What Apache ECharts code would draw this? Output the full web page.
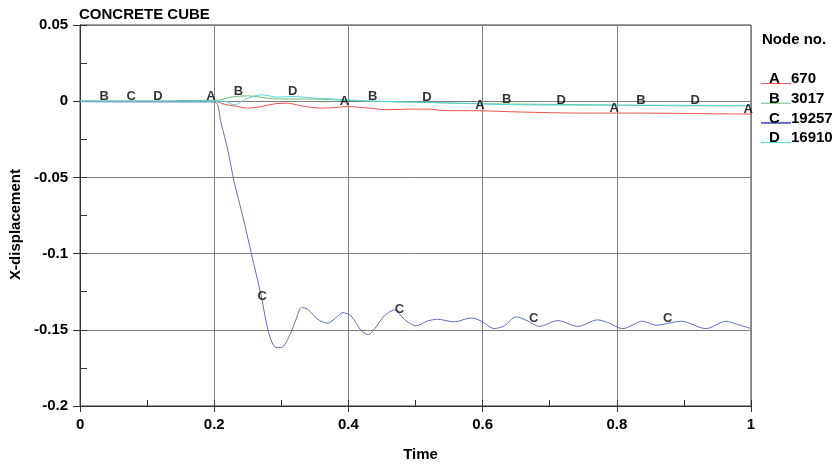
<!DOCTYPE html>
<html>
<head>
<meta charset="utf-8">
<script src="https://cdn.jsdelivr.net/npm/echarts@6/dist/echarts.min.js"></script>
<style>html,body{margin:0;padding:0;background:#fff;}#c{width:836px;height:467px;}</style>
</head>
<body>
<div id="c"></div>
<script>
// ---- data ----
const chartTitle = 'CONCRETE CUBE';
const xName = 'Time';
const yName = 'X-displacement';
const legendTitle = 'Node no.';
const curveLetters = ['A', 'B', 'C', 'D'];
const nodeIds = ['670', '3017', '19257', '16910'];
const xTicks = [0, 0.2, 0.4, 0.6, 0.8, 1];
const yTicks = [-0.2, -0.15, -0.1, -0.05, 0, 0.05];

const timeA = [0, 0.1, 0.2, 0.215, 0.235, 0.25, 0.27, 0.29, 0.309, 0.329, 0.359, 0.384, 0.399, 0.429, 0.4585, 0.498, 0.523, 0.538, 0.5976, 0.657, 0.7466, 0.836, 0.935, 1.0];
const valA  = [0, 0, 0, -0.002, -0.0035, -0.0045, -0.0035, -0.0017, -0.0013, -0.003, -0.0045, -0.004, -0.0035, -0.0045, -0.0056, -0.0052, -0.0052, -0.0061, -0.0063, -0.0071, -0.0078, -0.0078, -0.0082, -0.0085];

const timeB = [0, 0.1, 0.14, 0.15, 0.2, 0.21, 0.225, 0.25, 0.2797, 0.2996, 0.349, 0.399, 0.4486, 0.508, 0.6076, 0.707, 0.806, 0.906, 1.0];
const valB  = [0, 0, 0, 0.0005, 0.0005, 0.0009, 0.0027, 0.0035, 0.002, 0.0014, 0.0014, 0.0005, -0.0002, -0.0008, -0.0017, -0.0021, -0.0026, -0.003, -0.003];

const timeC = [0, 0.1, 0.2, 0.21, 0.22, 0.23, 0.2425, 0.255, 0.27, 0.281, 0.292, 0.30, 0.312, 0.322, 0.33, 0.339, 0.354, 0.369, 0.3815, 0.3915, 0.404, 0.419, 0.43, 0.4386, 0.4535, 0.4684, 0.4833, 0.5007, 0.5182, 0.533, 0.5578, 0.5827, 0.5976, 0.6174, 0.6324, 0.6498, 0.6672, 0.6845, 0.7119, 0.7417, 0.7715, 0.7864, 0.8088, 0.8386, 0.8584, 0.8957, 0.9329, 0.9627, 0.9801, 1.0];
const valC  = [-0.0003, -0.0005, -0.0005, -0.0143, -0.0318, -0.0536, -0.0755, -0.0994, -0.1278, -0.1518, -0.1616, -0.1616, -0.154, -0.143, -0.1354, -0.1365, -0.143, -0.1457, -0.142, -0.1387, -0.141, -0.1505, -0.1531, -0.1496, -0.1409, -0.137, -0.1431, -0.1474, -0.1442, -0.1431, -0.1448, -0.1422, -0.1442, -0.1492, -0.1474, -0.1415, -0.1442, -0.1478, -0.1439, -0.1478, -0.1435, -0.1452, -0.1492, -0.1444, -0.147, -0.1444, -0.1492, -0.1444, -0.1465, -0.1492];

const timeD = [0, 0.1, 0.2, 0.215, 0.23, 0.245, 0.27, 0.2946, 0.319, 0.349, 0.379, 0.414, 0.4586, 0.523, 0.657, 0.806, 1.0];
const valD  = [0, 0, 0, 0, -0.0024, 0.0009, 0.0042, 0.0027, 0.003, 0.002, 0.0014, 0.0005, -0.0002, -0.0008, -0.0024, -0.0026, -0.0028];

// times where the curve letters are written
const labelTimesA = [0.195, 0.394, 0.596, 0.796, 0.996];
const labelTimesB = [0.036, 0.236, 0.436, 0.636, 0.836];
const labelTimesC = [0.076, 0.2715, 0.476, 0.676, 0.876];
const labelTimesD = [0.116, 0.317, 0.517, 0.717, 0.917];

// ---- build ----
const colors = ['#f05050', '#6cc06c', '#5f70c0', '#55d4e2'];
const curves = [[timeA, valA], [timeB, valB], [timeC, valC], [timeD, valD]];
const labelTimes = [labelTimesA, labelTimesB, labelTimesC, labelTimesD];
const FONT = '"Liberation Sans", Arial, Helvetica, sans-serif';

function interp(ts, vs, t) {
  for (let i = 1; i < ts.length; i++) {
    if (t <= ts[i]) {
      const f = (t - ts[i - 1]) / (ts[i] - ts[i - 1]);
      return vs[i - 1] + f * (vs[i] - vs[i - 1]);
    }
  }
  return vs[vs.length - 1];
}

const series = curves.map((c, i) => ({
  name: curveLetters[i],
  type: 'line',
  data: c[0].map((t, k) => [t, c[1][k]]),
  symbol: 'none',
  smooth: 0.3,
  lineStyle: { color: colors[i], width: 1 },
  z: 3
}));

const labelData = [];
labelTimes.forEach((arr, i) => {
  arr.forEach(t => labelData.push([t, interp(curves[i][0], curves[i][1], t), curveLetters[i]]));
});
series.push({
  type: 'scatter',
  data: labelData,
  symbolSize: 1,
  itemStyle: { color: 'rgba(0,0,0,0)' },
  label: {
    show: true,
    position: 'inside',
    offset: [0, -5],
    formatter: p => p.value[2],
    color: '#000',
    textBorderWidth: 0,
    fontFamily: FONT,
    fontWeight: 'bold',
    fontSize: 13
  },
  z: 5
});

const gridLeft = 79, gridTop = 25, gridRight = 85, gridBottom = 60;
const legendX = 761, legendRow0 = 83.5, legendStep = 19.7;
const graphic = [{
  type: 'text', left: 762, top: 32,
  style: { text: legendTitle, font: 'bold 15px ' + FONT, fill: '#000' }
}];
curveLetters.forEach((L, i) => {
  const yl = legendRow0 + i * legendStep;
  graphic.push({ type: 'line', shape: { x1: legendX, y1: yl, x2: legendX + 30, y2: yl }, style: { stroke: colors[i], lineWidth: i === 2 ? 2 : 1 } });
  graphic.push({ type: 'text', x: legendX + 8, y: yl - 4.5, style: { text: L, font: 'bold 15px ' + FONT, fill: '#000', verticalAlign: 'middle' } });
  graphic.push({ type: 'text', x: legendX + 30, y: yl - 4.5, style: { text: nodeIds[i], font: 'bold 15px ' + FONT, fill: '#000', verticalAlign: 'middle' } });
});

const axisColor = '#333';
const gridColor = '#808080';
const labelStyle = { color: '#000', fontFamily: FONT, fontWeight: 'bold', fontSize: 15 };

const option = {
  animation: false,
  backgroundColor: '#fff',
  title: { text: chartTitle, left: 79, top: 7, padding: 0, textStyle: { color: '#000', fontFamily: FONT, fontWeight: 'bold', fontSize: 15 } },
  grid: { left: gridLeft, top: gridTop, right: gridRight, bottom: gridBottom, show: true, borderColor: axisColor, borderWidth: 1, backgroundColor: 'transparent' },
  xAxis: [{
    type: 'value', position: 'bottom', min: xTicks[0], max: xTicks[xTicks.length - 1], interval: 0.2,
    name: xName, nameLocation: 'middle', nameGap: 41,
    nameTextStyle: { color: '#000', fontFamily: FONT, fontWeight: 'bold', fontSize: 15, padding: [0, 0, 0, 10] },
    axisLine: { show: true, onZero: false, lineStyle: { color: axisColor } },
    axisTick: { show: true, inside: false, length: 6, lineStyle: { color: axisColor } },
    axisLabel: Object.assign({ margin: 11 }, labelStyle),
    splitLine: { show: true, lineStyle: { color: gridColor, width: 1 } }
  }, {
    type: 'value', position: 'bottom', min: xTicks[0], max: xTicks[xTicks.length - 1], interval: 0.1,
    axisLine: { show: true, onZero: false, lineStyle: { color: axisColor } },
    axisTick: { show: true, inside: true, length: 6, lineStyle: { color: axisColor } },
    axisLabel: { show: false },
    splitLine: { show: false }
  }],
  yAxis: [{
    type: 'value', position: 'left', min: yTicks[0], max: yTicks[yTicks.length - 1], interval: 0.05,
    name: yName, nameLocation: 'middle', nameGap: 53,
    nameTextStyle: { color: '#000', fontFamily: FONT, fontWeight: 'bold', fontSize: 15, padding: [0, 18, 0, 0] },
    axisLine: { show: true, onZero: false, lineStyle: { color: axisColor } },
    axisTick: { show: true, inside: false, length: 7, lineStyle: { color: axisColor } },
    axisLabel: Object.assign({ margin: 12 }, labelStyle),
    splitLine: { show: true, lineStyle: { color: gridColor, width: 1 } }
  }, {
    type: 'value', position: 'left', min: yTicks[0], max: yTicks[yTicks.length - 1], interval: 0.025,
    axisLine: { show: true, onZero: false, lineStyle: { color: axisColor } },
    axisTick: { show: true, inside: true, length: 7, lineStyle: { color: axisColor } },
    axisLabel: { show: false },
    splitLine: { show: false }
  }],
  graphic: graphic,
  series: series
};

const chart = echarts.init(document.getElementById('c'), null, { renderer: 'canvas' });
chart.setOption(option);
</script>
</body>
</html>
